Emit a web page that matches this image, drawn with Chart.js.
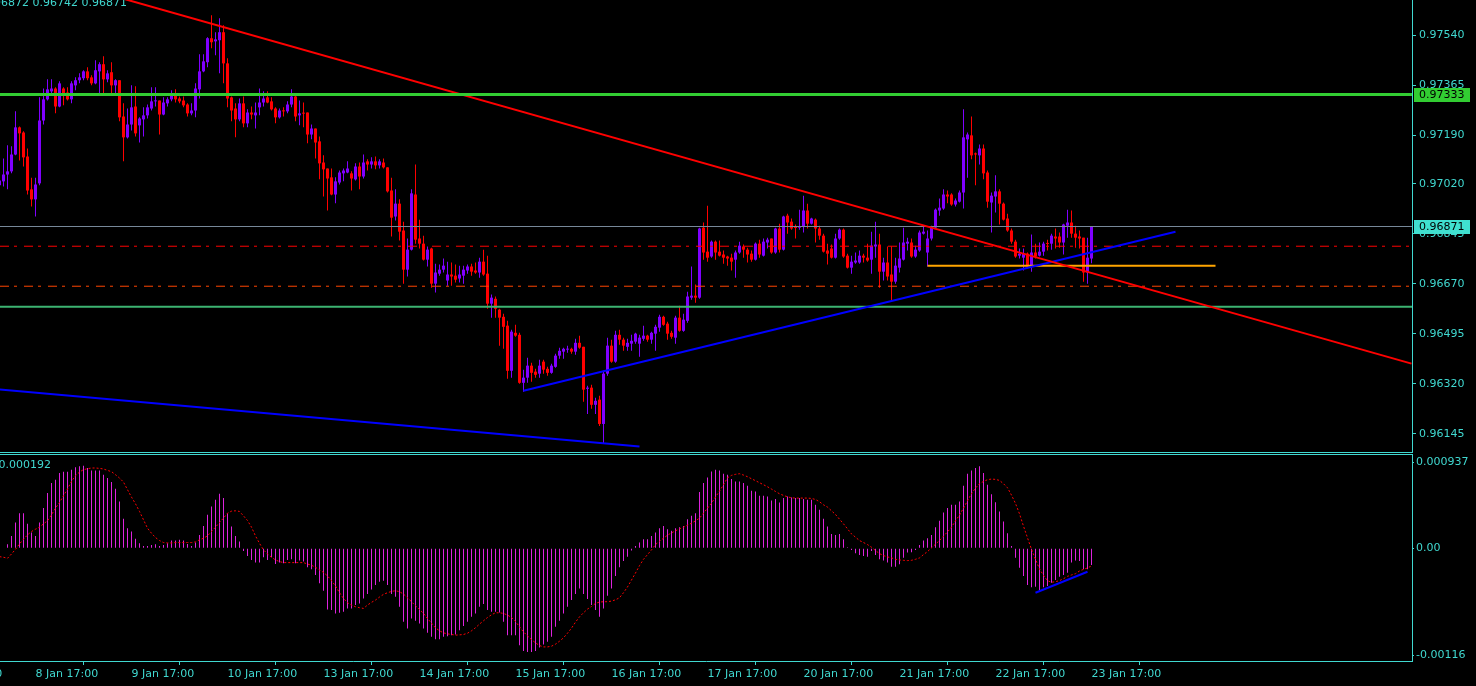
<!DOCTYPE html>
<html><head><meta charset="utf-8">
<script src="https://cdn.jsdelivr.net/npm/chart.js@4.4.1/dist/chart.umd.min.js"></script>
<style>
html,body{margin:0;padding:0;background:#000;overflow:hidden;}
#wrap{position:relative;width:1476px;height:686px;background:#000;}
canvas{position:absolute;left:0;}
</style></head><body>
<div id="wrap">
<canvas id="price" width="1476" height="453" style="top:0"></canvas>
<canvas id="macd" width="1476" height="233" style="top:453px"></canvas>
</div>
<script>
// ---------------- DATA (H1 bars, index -1 .. 272; prices in points = 1e-5) ----------------
const firstIndex = -1;
const open = [
97015,97029,97053,97064,97123,97218,97200,97116,97001,96966,
97022,97242,97316,97344,97354,97291,97354,97340,97316,97365,
97383,97390,97414,97393,97372,97414,97439,97386,97411,97365,
97383,97256,97183,97228,97291,97225,97246,97260,97284,97309,
97312,97263,97302,97316,97330,97319,97312,97298,97267,97277,
97351,97414,97446,97530,97519,97523,97551,97442,97323,97284,
97246,97302,97232,97270,97260,97288,97305,97323,97309,97284,
97253,97277,97274,97298,97326,97260,97267,97270,97193,97214,
97169,97095,97074,97043,96983,97025,97057,97060,97057,97036,
97081,97046,97099,97088,97099,97085,97095,97078,96997,96906,
96951,96857,96720,96790,96983,96829,96811,96755,96794,96671,
96706,96720,96682,96703,96699,96689,96699,96717,96731,96717,
96710,96748,96706,96601,96618,96580,96555,96524,96366,96499,
96492,96324,96342,96384,96363,96356,96398,96373,96359,96380,
96419,96433,96440,96443,96433,96464,96450,96303,96307,96247,
96265,96180,96356,96454,96398,96492,96475,96450,96461,96468,
96461,96478,96489,96475,96496,96517,96555,96531,96499,96482,
96552,96506,96541,96622,96629,96622,96867,96783,96766,96818,
96783,96773,96766,96762,96755,96780,96801,96790,96776,96755,
96811,96769,96815,96829,96780,96864,96790,96909,96888,96867,
96867,96871,96927,96881,96895,96864,96839,96787,96794,96762,
96829,96860,96769,96727,96745,96745,96769,96762,96755,96801,
96808,96713,96745,96703,96678,96727,96755,96811,96815,96766,
96787,96846,96780,96829,96867,96927,96934,96983,96983,96948,
96958,96990,97176,97190,97127,97120,97144,97060,96955,96976,
96994,96951,96899,96857,96818,96769,96762,96776,96731,96780,
96769,96783,96811,96811,96836,96836,96815,96874,96885,96846,
96836,96832,96710,96759];
const high = [
97046,97109,97155,97152,97274,97221,97204,97144,97042,97042,
97323,97354,97386,97386,97358,97379,97358,97358,97379,97393,
97407,97418,97428,97400,97453,97446,97467,97418,97446,97386,
97383,97302,97284,97365,97362,97253,97288,97298,97358,97358,
97312,97323,97323,97348,97351,97326,97326,97302,97302,97372,
97474,97474,97533,97610,97551,97600,97575,97460,97326,97302,
97319,97326,97281,97291,97305,97354,97344,97344,97323,97288,
97284,97288,97309,97351,97330,97312,97305,97270,97228,97214,
97186,97120,97074,97074,97043,97067,97074,97099,97064,97092,
97095,97123,97106,97113,97116,97106,97109,97078,97042,97001,
96966,96888,96829,97001,97088,96895,96839,96801,96797,96741,
96738,96759,96748,96745,96738,96734,96734,96738,96741,96745,
96762,96790,96769,96633,96626,96583,96566,96541,96510,96527,
96499,96370,96412,96394,96373,96405,96405,96380,96391,96426,
96447,96447,96454,96447,96478,96489,96450,96314,96317,96272,
96279,96366,96482,96475,96506,96510,96482,96478,96492,96499,
96492,96524,96492,96503,96527,96562,96559,96538,96506,96559,
96594,96566,96643,96731,96668,96867,96885,96944,96822,96822,
96822,96787,96769,96776,96787,96818,96808,96797,96787,96815,
96825,96829,96832,96829,96867,96881,96909,96916,96899,96878,
96930,96979,96951,96902,96899,96874,96846,96811,96808,96846,
96864,96864,96776,96769,96780,96787,96776,96811,96853,96888,
96846,96762,96801,96801,96762,96815,96867,96832,96829,96804,
96857,96871,96857,96874,96934,96969,97001,96997,96987,96969,
96997,97281,97200,97256,97130,97158,97158,97067,96990,97050,
97001,96955,96916,96864,96825,96794,96794,96780,96843,96811,
96815,96818,96825,96846,96864,96850,96881,96930,96927,96874,
96857,96832,96832,96872];
const low = [
97004,97011,97001,97057,97120,97102,97081,96983,96941,96906,
97015,97228,97312,97333,97267,97288,97295,97312,97302,97348,
97372,97383,97383,97365,97369,97337,97337,97376,97337,97337,
97239,97099,97179,97207,97186,97165,97186,97249,97277,97291,
97193,97260,97291,97309,97305,97302,97288,97256,97260,97253,
97319,97411,97428,97495,97470,97407,97372,97288,97239,97183,
97239,97218,97218,97246,97214,97260,97291,97302,97277,97232,
97249,97256,97267,97288,97239,97225,97218,97162,97176,97109,
97036,96976,96927,96980,96952,97018,97029,97057,96997,97032,
97001,97039,97067,97074,97071,97074,97074,96990,96836,96892,
96822,96671,96696,96787,96811,96794,96752,96731,96657,96640,
96699,96710,96664,96664,96675,96675,96671,96706,96699,96706,
96692,96699,96583,96552,96552,96454,96443,96338,96342,96485,
96321,96293,96324,96328,96342,96342,96356,96349,96356,96377,
96408,96408,96429,96426,96422,96443,96258,96215,96233,96215,
96173,96110,96349,96394,96394,96457,96436,96436,96436,96461,
96415,96471,96468,96461,96436,96503,96524,96475,96478,96461,
96503,96503,96534,96615,96604,96618,96755,96748,96762,96755,
96766,96741,96734,96717,96692,96776,96762,96745,96748,96752,
96762,96766,96794,96776,96776,96780,96787,96846,96860,96829,
96860,96850,96864,96878,96815,96825,96780,96738,96759,96759,
96825,96762,96724,96706,96741,96741,96745,96748,96706,96762,
96657,96682,96682,96611,96671,96710,96752,96787,96762,96762,
96783,96843,96731,96822,96864,96909,96930,96952,96944,96941,
96955,96934,97042,97106,97015,97088,97036,96937,96850,96920,
96878,96892,96853,96811,96762,96759,96717,96724,96713,96759,
96766,96769,96787,96790,96794,96797,96773,96832,96832,96797,
96794,96678,96671,96742];
const close = [
97032,97053,97064,97123,97218,97197,97113,96997,96966,97018,
97242,97316,97351,97354,97291,97372,97333,97316,97372,97383,
97393,97414,97390,97372,97418,97439,97386,97407,97365,97383,
97253,97183,97228,97288,97197,97249,97260,97288,97309,97312,
97263,97305,97316,97330,97316,97309,97295,97267,97277,97354,
97414,97449,97530,97516,97526,97551,97442,97319,97277,97246,
97302,97232,97270,97263,97270,97305,97319,97305,97281,97253,
97277,97274,97298,97326,97256,97267,97266,97193,97214,97165,
97092,97071,97039,96983,97029,97060,97067,97074,97039,97081,
97046,97095,97088,97099,97085,97099,97078,96994,96902,96951,
96853,96720,96790,96987,96825,96811,96755,96790,96671,96710,
96720,96734,96703,96696,96685,96703,96720,96731,96713,96710,
96748,96703,96601,96622,96583,96552,96520,96366,96503,96489,
96324,96342,96384,96359,96352,96384,96370,96359,96384,96419,
96436,96443,96441,96433,96464,96447,96300,96307,96247,96261,
96180,96356,96454,96398,96492,96475,96454,96464,96471,96496,
96482,96489,96475,96499,96520,96555,96527,96496,96485,96552,
96506,96545,96626,96629,96622,96864,96780,96762,96818,96780,
96769,96762,96759,96748,96780,96804,96790,96773,96755,96811,
96773,96818,96825,96780,96864,96790,96906,96885,96864,96866,
96868,96927,96881,96899,96864,96839,96783,96776,96762,96829,
96860,96766,96727,96748,96752,96769,96762,96752,96804,96808,
96713,96745,96696,96678,96734,96759,96815,96818,96766,96790,
96850,96853,96829,96867,96930,96937,96983,96976,96948,96962,
96990,97183,97193,97120,97123,97144,97057,96958,96979,96994,
96951,96895,96857,96818,96766,96776,96776,96731,96780,96766,
96783,96811,96810,96839,96829,96815,96878,96885,96846,96832,
96829,96710,96762,96871];
// MACD main (histogram) and signal, in units of 1e-6
const macdHist = [
-20,0,44,134,280,381,381,265,171,134,
280,436,599,708,745,817,832,832,854,879,
890,897,872,846,846,846,799,763,719,647,
508,320,218,182,102,54,25,25,36,44,
25,36,54,84,84,91,84,47,25,62,
145,243,363,454,527,592,545,381,236,134,
73,-29,-84,-127,-156,-156,-98,-127,-98,-171,
-156,-163,-127,-120,-163,-134,-145,-207,-229,-291,
-381,-461,-665,-672,-708,-701,-690,-654,-654,-617,
-599,-545,-498,-447,-400,-363,-352,-400,-498,-527,
-636,-799,-872,-763,-788,-817,-872,-919,-962,-988,
-988,-962,-955,-944,-937,-890,-846,-799,-745,-708,
-636,-607,-672,-690,-690,-697,-799,-944,-944,-944,
-1053,-1115,-1126,-1126,-1115,-1079,-1046,-1017,-962,-854,
-788,-708,-636,-563,-498,-436,-498,-552,-617,-672,
-745,-654,-516,-436,-301,-207,-138,-91,-25,25,
62,98,98,134,171,218,243,207,189,218,
229,243,316,352,381,610,708,770,835,854,
846,810,799,752,726,726,708,679,625,617,
570,570,563,519,534,498,545,563,552,545,
545,534,527,527,472,418,320,236,156,145,
156,98,11,-18,-54,-73,-84,-91,-29,-73,
-120,-134,-156,-200,-200,-174,-102,-47,-44,-18,
36,84,109,145,229,298,389,436,472,472,
508,679,810,846,872,890,817,690,588,501,
400,291,163,25,-102,-211,-301,-400,-425,-418,
-454,-425,-410,-374,-345,-309,-291,-265,-156,-134,
-138,-229,-229,-182];
const macdSignal = [
-91,-98,-109,-62,-11,47,98,145,182,207,
229,265,298,363,436,498,570,643,726,788,
828,854,864,872,872,868,861,846,832,799,
763,719,636,556,483,400,309,218,163,116,
84,62,58,58,62,62,62,62,62,69,
91,109,134,182,229,280,327,381,403,407,
400,352,301,229,134,54,-18,-62,-98,-127,
-145,-156,-156,-156,-156,-156,-156,-171,-185,-207,
-236,-262,-301,-352,-410,-483,-545,-592,-617,-636,
-646,-654,-617,-588,-563,-530,-501,-483,-469,-461,
-472,-498,-538,-581,-625,-665,-708,-763,-814,-864,
-897,-919,-930,-937,-944,-941,-937,-923,-897,-864,
-824,-788,-752,-723,-701,-701,-708,-726,-752,-795,
-854,-908,-952,-992,-1028,-1057,-1072,-1072,-1064,-1042,
-1010,-973,-923,-868,-803,-745,-701,-661,-632,-599,
-585,-581,-581,-574,-560,-538,-483,-421,-345,-269,
-189,-120,-69,-18,40,76,109,142,167,189,
211,229,251,272,298,327,381,436,490,556,
621,690,766,792,803,810,795,777,755,734,
712,690,668,643,617,592,574,559,548,545,
545,545,545,541,530,505,472,447,407,367,
316,265,211,156,120,84,62,40,11,-25,
-58,-80,-94,-105,-120,-127,-131,-134,-131,-120,
-105,-69,-36,4,44,84,131,178,229,298,
360,436,516,592,654,701,726,745,752,748,
737,701,657,577,487,374,240,113,-11,-120,
-225,-294,-352,-370,-363,-352,-331,-305,-290,-276,
-247,-229,-214,-192];

// time axis labels (bar index of each 17:00 label)
const timeTickIdx = [8,32,56,80,104,128,152,176,200,224,248,272];
const timeLabels = ['8 Jan 17:00','9 Jan 17:00','10 Jan 17:00','13 Jan 17:00','14 Jan 17:00','15 Jan 17:00','16 Jan 17:00','17 Jan 17:00','20 Jan 17:00','21 Jan 17:00','22 Jan 17:00','23 Jan 17:00'];
const offLeftLabelIdx = -16, offLeftLabel = '7 Jan 17:00';
const priceTicks = [0.97540,0.97365,0.97190,0.97020,0.96845,0.96670,0.96495,0.96320,0.96145];
const macdTicks = [0.000937, 0, -0.00116];
const macdTickLabels = ['0.000937','0.00','-0.00116'];

// chart objects (time index, price)
const hLevelGreen = 0.97333, hLevelBid = 0.96871, hLevelRedDash = 0.96802, hLevelOrangeDash = 0.96662, hLevelSeaGreen = 0.96590;
const trendRedX = [-1, 352], trendRedY = [0.97791, 0.96391];
const trendBlueLowX = [-1, 159], trendBlueLowY = [0.96301, 0.96101];
const trendBlueUpX = [130, 293], trendBlueUpY = [0.96296, 0.96853];
const orangeX = [231, 303], orangeY = [0.96734, 0.96734];
const macdTrendX = [258, 271], macdTrendY = [-0.000483, -0.000255];
const headerText = '0.96872 0.96742 0.96871';
const macdHeaderText = '-0.000192';

// ---------------- STYLE ----------------
const AXIS = '#40d8d0', UP = '#8000ff', DOWN = '#ff0000', HIST = '#dd22dd';
const FONT = {family: '"DejaVu Sans", Verdana, sans-serif', size: 11};
const X_MIN = -0.875, X_MAX = 352.125;
const PRICE_MIN = 0.960818, PRICE_MAX = 0.976638;
const MACD_MIN = -0.001225, MACD_MAX = 0.001024;

Chart.defaults.font.family = FONT.family;
Chart.defaults.font.size = 11;
Chart.defaults.color = AXIS;

const xs = open.map((_, i) => i + firstIndex);
const P = v => v / 1e5;
const candleCol = xs.map((_, i) => close[i] >= open[i] ? UP : DOWN);

function lineDs(xArr, yArr, color, width, dash, order) {
  return {type: 'line', data: xArr.map((x, i) => ({x, y: yArr[i]})), borderColor: color, borderWidth: width,
    borderDash: dash || [], pointRadius: 0, pointHoverRadius: 0, fill: false, tension: 0, order: order || 0};
}
const hLine = (v, c, w, d) => lineDs([X_MIN, X_MAX], [v, v], c, w, d);
function noPad(s) { s.paddingTop = 0; s.paddingBottom = 0; s.paddingLeft = 0; s.paddingRight = 0; }

const overlay1 = {
  id: 'overlay1',
  afterDraw(chart) {
    const {ctx, scales: {y}} = chart;
    ctx.save();
    ctx.fillStyle = AXIS;
    ctx.fillRect(0, 452, 1413, 1);
    ctx.font = '11px ' + FONT.family;
    ctx.textAlign = 'left';
    ctx.textBaseline = 'alphabetic';
    ctx.fillText(headerText, -16.5, 6);
    [[hLevelGreen, '#32cd32'], [hLevelBid, '#40e0d0']].forEach(([v, bg]) => {
      const py = Math.round(y.getPixelForValue(v));
      ctx.fillStyle = bg;
      ctx.fillRect(1414, py - 7, 56, 14);
      ctx.fillStyle = '#000';
      ctx.textBaseline = 'middle';
      ctx.fillText(v.toFixed(5), 1419, py + 0.5);
    });
    ctx.restore();
  }
};
const overlay2 = {
  id: 'overlay2',
  afterDraw(chart) {
    const {ctx, chartArea, scales: {x}} = chart;
    ctx.save();
    ctx.fillStyle = AXIS;
    ctx.fillRect(0, chartArea.top, 1413, 1);
    ctx.font = '11px ' + FONT.family;
    ctx.textAlign = 'left';
    ctx.textBaseline = 'middle';
    ctx.fillText(macdHeaderText, -5.5, 12.5);
    ctx.fillText(offLeftLabel, x.getPixelForValue(offLeftLabelIdx), chartArea.bottom + 13.5);
    ctx.restore();
  }
};

new Chart(document.getElementById('price'), {
  type: 'bar',
  data: {datasets: [
    hLine(hLevelGreen, '#32cd32', 3),
    lineDs(trendRedX, trendRedY, '#ff0000', 2),
    lineDs(trendBlueLowX, trendBlueLowY, '#0000ff', 2),
    lineDs(trendBlueUpX, trendBlueUpY, '#0000ff', 2),
    lineDs(orangeX, orangeY, '#ffa500', 2),
    hLine(hLevelBid, '#778899', 1),
    hLine(hLevelRedDash, '#ff0000', 1, [9, 5, 3, 7]),
    hLine(hLevelOrangeDash, '#ff4500', 1, [9, 5, 3, 7]),
    hLine(hLevelSeaGreen, '#3cb371', 2),
    {type: 'bar', data: xs.map((x, i) => ({x, y: [P(open[i]), P(close[i])]})), backgroundColor: candleCol,
     barThickness: 3, grouped: false, inflateAmount: 0, borderWidth: 0, minBarLength: 1, order: 1},
    {type: 'bar', data: xs.map((x, i) => ({x, y: [P(low[i]), P(high[i])]})), backgroundColor: candleCol,
     barThickness: 1, grouped: false, inflateAmount: 0, borderWidth: 0, minBarLength: 1, order: 2}
  ]},
  options: {
    responsive: false, animation: false, devicePixelRatio: 1,
    layout: {padding: {left: 0, right: 0, top: 0, bottom: 1}},
    plugins: {legend: {display: false}, tooltip: {enabled: false}},
    events: [],
    scales: {
      x: {type: 'linear', min: X_MIN, max: X_MAX, display: false, offset: false},
      y: {type: 'linear', position: 'right', min: PRICE_MIN, max: PRICE_MAX,
          afterFit(s) { s.width = 64; noPad(s); },
          afterBuildTicks(s) { s.ticks = priceTicks.map(v => ({value: v})); },
          ticks: {color: AXIS, font: FONT, padding: 3, autoSkip: false, callback: v => Number(v).toFixed(5)},
          grid: {drawOnChartArea: false, drawTicks: true, tickLength: 4, color: AXIS},
          border: {display: true, color: AXIS, width: 1}}
    }
  },
  plugins: [overlay1]
});

new Chart(document.getElementById('macd'), {
  type: 'bar',
  data: {datasets: [
    lineDs(macdTrendX, macdTrendY, '#0000ff', 2),
    lineDs(xs, macdSignal.map(v => v / 1e6), '#ff0000', 1, [2, 2]),
    {type: 'bar', data: xs.map((x, i) => ({x, y: macdHist[i] / 1e6})), backgroundColor: HIST,
     barThickness: 1, grouped: false, inflateAmount: 0, borderWidth: 0, order: 2}
  ]},
  options: {
    responsive: false, animation: false, devicePixelRatio: 1,
    layout: {padding: {left: 0, right: 0, top: 1, bottom: 0}},
    plugins: {legend: {display: false}, tooltip: {enabled: false}},
    events: [],
    scales: {
      x: {type: 'linear', position: 'bottom', min: X_MIN, max: X_MAX, offset: false,
          afterFit(s) { s.height = 25; noPad(s); },
          afterBuildTicks(s) { s.ticks = timeTickIdx.map(v => ({value: v})); },
          ticks: {color: AXIS, font: FONT, align: 'start', padding: 3, maxRotation: 0, minRotation: 0, autoSkip: false,
                  callback: (v, i) => timeLabels[i]},
          grid: {drawOnChartArea: false, drawTicks: true, tickLength: 4, color: AXIS},
          border: {display: true, color: AXIS}},
      y: {type: 'linear', position: 'right', min: MACD_MIN, max: MACD_MAX,
          afterFit(s) { s.width = 64; noPad(s); },
          afterBuildTicks(s) { s.ticks = macdTicks.map(v => ({value: v})); },
          ticks: {color: AXIS, font: FONT, padding: 2, autoSkip: false, callback: (v, i) => macdTickLabels[i]},
          grid: {drawOnChartArea: false, drawTicks: true, tickLength: 2, color: AXIS},
          border: {display: true, color: AXIS}}
    }
  },
  plugins: [overlay2]
});
</script>
</body></html>
